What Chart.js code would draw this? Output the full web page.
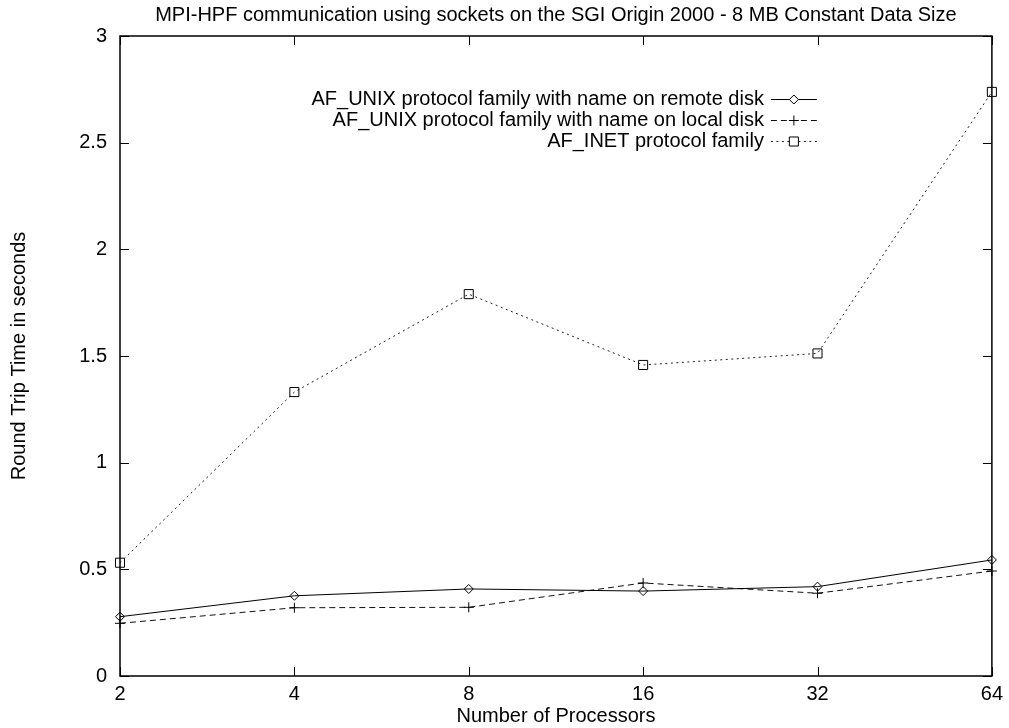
<!DOCTYPE html>
<html>
<head>
<meta charset="utf-8">
<script src="https://cdn.jsdelivr.net/npm/chart.js@4/dist/chart.umd.min.js"></script>
<style>
  html, body { margin: 0; padding: 0; background: #fff; }
  #wrap { width: 1009px; height: 728px; }
</style>
</head>
<body>
<div id="wrap"><canvas id="chart" width="1009" height="728"></canvas></div>
<script>
// values
const procs      = [2, 4, 8, 16, 32, 64];
const remoteDisk = [0.278, 0.376, 0.408, 0.398, 0.419, 0.544];
const localDisk  = [0.247, 0.320, 0.322, 0.436, 0.388, 0.492];
const inet       = [0.531, 1.331, 1.790, 1.458, 1.512, 2.738];
const yTicks     = [0, 0.5, 1, 1.5, 2, 2.5, 3];

const labels = [
  'AF_UNIX protocol family with name on remote disk',
  'AF_UNIX protocol family with name on local disk',
  'AF_INET protocol family',
];
const TITLE = 'MPI-HPF communication using sockets on the SGI Origin 2000 - 8 MB Constant Data Size';

const FONT = 'Liberation Sans, Arial, Helvetica, sans-serif';
const FS = 20;

const series = [
  { data: remoteDisk, color: '#000', dash: [],     style: 'rectRot', r: 4.5 },
  { data: localDisk,  color: '#111', dash: [6, 4], style: 'cross',   r: 5 },
  { data: inet,       color: '#222', dash: [2, 3.5], style: 'rect',  r: 6.4 },
];

const datasets = series.map((s, i) => ({
  label: labels[i],
  data: procs.map((p, j) => ({ x: p, y: s.data[j] })),
  borderColor: s.color,
  borderWidth: 1,
  borderDash: s.dash,
  pointStyle: s.style,
  pointRadius: s.r,
  pointBorderColor: '#000',
  pointBorderWidth: 1,
  pointBackgroundColor: 'rgba(0,0,0,0)',
  fill: false,
  tension: 0,
  clip: 12,
}));

// gnuplot style frame, inward ticks on all four sides, title and the key
const framePlugin = {
  id: 'frame',
  afterDraw(chart) {
    const { ctx, chartArea: a, scales } = chart;
    ctx.save();
    ctx.strokeStyle = '#000';
    ctx.lineWidth = 1.5;
    ctx.strokeRect(a.left, a.top, a.right - a.left, a.bottom - a.top);
    ctx.lineWidth = 1;
    const tl = 9;
    ctx.beginPath();
    procs.forEach(p => {
      const x = Math.round(scales.x.getPixelForValue(p)) + 0.5;
      ctx.moveTo(x, a.bottom); ctx.lineTo(x, a.bottom - tl);
      ctx.moveTo(x, a.top);    ctx.lineTo(x, a.top + tl);
    });
    yTicks.forEach(v => {
      const y = Math.round(scales.y.getPixelForValue(v)) + 0.5;
      ctx.moveTo(a.left, y);  ctx.lineTo(a.left + tl, y);
      ctx.moveTo(a.right, y); ctx.lineTo(a.right - tl, y);
    });
    ctx.stroke();

    ctx.font = FS + 'px ' + FONT;
    ctx.fillStyle = '#000';
    ctx.textBaseline = 'middle';
    ctx.textAlign = 'center';
    ctx.fillText(TITLE, (a.left + a.right) / 2, 15);

    // key
    const textRight = a.right - 228;
    const x0 = textRight + 7, x1 = textRight + 53;
    ctx.textAlign = 'right';
    series.forEach((s, i) => {
      const y = a.top + 63 + i * 21;
      ctx.fillStyle = '#000';
      ctx.fillText(labels[i], textRight, y);
      ctx.strokeStyle = s.color;
      ctx.lineWidth = 1;
      ctx.setLineDash(s.dash);
      ctx.beginPath();
      ctx.moveTo(x0, y + 0.5); ctx.lineTo(x1, y + 0.5);
      ctx.stroke();
      ctx.setLineDash([]);
      ctx.strokeStyle = '#000';
      ctx.fillStyle = '#fff';
      Chart.helpers.drawPoint(ctx, {
        pointStyle: s.style, radius: s.r, borderWidth: 1, rotation: 0,
      }, (x0 + x1) / 2, y + 0.5);
    });
    ctx.restore();
  }
};

new Chart(document.getElementById('chart'), {
  type: 'line',
  data: { datasets },
  plugins: [framePlugin],
  options: {
    responsive: false,
    animation: false,
    layout: { padding: { left: 0, right: 14, top: 36, bottom: 0 } },
    plugins: {
      legend: { display: false },
      tooltip: { enabled: false },
      title: { display: false },
    },
    scales: {
      x: {
        type: 'logarithmic',
        min: 2,
        max: 64,
        afterBuildTicks: sc => { sc.ticks = procs.map(v => ({ value: v })); },
        afterFit: sc => { sc.height = 52; },
        ticks: {
          color: '#000',
          font: { family: FONT, size: FS },
          padding: 6,
          maxRotation: 0,
          callback: v => String(v),
        },
        grid: { display: false, drawTicks: false },
        border: { display: false },
        title: {
          display: true,
          text: 'Number of Processors',
          color: '#000',
          font: { family: FONT, size: FS, lineHeight: 1.2 },
          padding: { top: 0, bottom: 0 },
        },
      },
      y: {
        min: 0,
        max: 3,
        afterBuildTicks: sc => { sc.ticks = yTicks.map(v => ({ value: v })); },
        afterFit: sc => { sc.width = 120; },
        ticks: {
          color: '#000',
          font: { family: FONT, size: FS },
          padding: 13,
          callback: v => String(v),
        },
        grid: { display: false, drawTicks: false },
        border: { display: false },
        title: {
          display: true,
          text: 'Round Trip Time in seconds',
          color: '#000',
          font: { family: FONT, size: FS, lineHeight: 1.2 },
          padding: { top: 7, bottom: 0 },
        },
      },
    },
  },
});
</script>
</body>
</html>
